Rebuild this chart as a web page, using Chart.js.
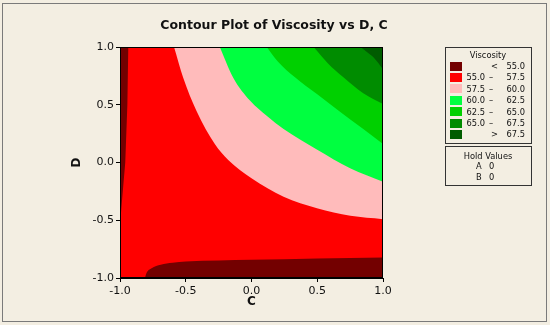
<!DOCTYPE html>
<html>
<head>
<meta charset="utf-8">
<script src="https://cdn.jsdelivr.net/npm/chart.js@4.4.1/dist/chart.umd.min.js"></script>
<style>
  body { margin: 0; }
  #wrap { position: relative; width: 550px; height: 325px; background: #f3eee2; font-family: 'DejaVu Sans', Verdana, sans-serif; color: #111; overflow: hidden; }
  #frame { position: absolute; left: 2px; top: 3px; width: 543px; height: 317px; border: 1px solid #7a7a7a; }
  canvas { position: absolute; left: 0; top: 0; }
  #title { position: absolute; left: 0; width: 548px; top: 17px; text-align: center; font-weight: bold; font-size: 12.5px; line-height: 16px; }
  .box { position: absolute; left: 445px; width: 85px; border: 1px solid #333; }
  .t { position: absolute; font-size: 8.3px; line-height: 10px; white-space: nowrap; }
  .sw { position: absolute; left: 450px; width: 12px; height: 9px; }
</style>
</head>
<body>
<div id="wrap">
  <div id="frame"></div>
  <canvas id="contourChart" width="550" height="325"></canvas>
  <div id="title">Contour Plot of Viscosity vs D, C</div>
  <div class="box" style="top:47px;height:95px"></div>
  <div class="box" style="top:146px;height:38px"></div>
  <div id="legend"></div>
</div>
<script>
// axis
const tickValues = [-1.0, -0.5, 0.0, 0.5, 1.0];
const axisMin = -1.0, axisMax = 1.0;

// contour levels and colours (lowest band first)
const levels = [55.0, 57.5, 60.0, 62.5, 65.0, 67.5];
const levelColors = ['#730000', '#ff0000', '#ffbbbb', '#00ff40', '#00d000', '#008c00', '#005c00'];

// hold values
const holdFactors = ['A', 'B'];
const holdValues = [0, 0];

// contour lines (C, D)
// 55.0 along the left edge
const leftC = [-0.937, -0.944, -0.96, -0.975, -0.99, -1.0];
const leftD = [1.0, 0.5, 0.0, -0.2, -0.4, -0.55];
// 55.0 along the bottom edge
const bottomC = [-0.81, -0.80, -0.76, -0.69, -0.6, -0.5, -0.25, 0.0, 0.5, 1.0];
const bottomD = [-1.0, -0.96, -0.915, -0.885, -0.868, -0.857, -0.848, -0.843, -0.832, -0.822];
// 57.5
const c575 = [-0.589, -0.52, -0.419, -0.279, -0.177, 0.0, 0.244, 0.498, 0.752, 1.0];
const d575 = [1.0, 0.736, 0.448, 0.16, 0.022, -0.137, -0.296, -0.396, -0.462, -0.491];
// 60.0
const c600 = [-0.241, -0.14, -0.01, 0.12, 0.244, 0.5, 0.75, 1.0];
const d600 = [1.0, 0.736, 0.534, 0.40, 0.29, 0.11, -0.05, -0.166];
// 62.5
const c625 = [0.117, 0.2, 0.333, 0.5, 0.663, 0.85, 1.0];
const d625 = [1.0, 0.875, 0.736, 0.59, 0.448, 0.29, 0.16];
// 65.0
const c650 = [0.472, 0.58, 0.701, 0.85, 1.0];
const d650 = [1.0, 0.86, 0.736, 0.6, 0.506];
// 67.5
const c675 = [0.828, 0.88, 0.929, 1.0];
const d675 = [1.0, 0.955, 0.909, 0.808];

function pts(cs, ds) {
  return cs.map((c, i) => ({ x: c, y: ds[i] }));
}

// bands, bottom layer first; level lines fill up to the top of the plot
const layers = [
  { data: pts([axisMin, axisMax, axisMax, axisMin], [axisMin, axisMin, axisMax, axisMax]), color: levelColors[1], fill: 'shape' },
  { data: pts(c575, d575), color: levelColors[2], fill: 'end' },
  { data: pts(c600, d600), color: levelColors[3], fill: 'end' },
  { data: pts(c625, d625), color: levelColors[4], fill: 'end' },
  { data: pts(c650, d650), color: levelColors[5], fill: 'end' },
  { data: pts(c675, d675), color: levelColors[6], fill: 'end' },
  { data: pts(bottomC, bottomD), color: levelColors[0], fill: 'start' },
  { data: pts(leftC, leftD).concat({ x: axisMin, y: axisMax }), color: levelColors[0], fill: 'shape' }
];

const frame = {
  id: 'frame',
  afterDatasetsDraw(chart) {
    const a = chart.chartArea, ctx = chart.ctx;
    ctx.save();
    ctx.strokeStyle = '#000';
    ctx.lineWidth = 1;
    ctx.strokeRect(Math.round(a.left) + 0.5, Math.round(a.top) + 0.5, Math.round(a.right - a.left) - 1, Math.round(a.bottom - a.top) - 1);
    ctx.restore();
  }
};

const tickFont = { family: 'DejaVu Sans', size: 11 };
const titleFont = { family: 'DejaVu Sans', size: 12, weight: 'bold' };

new Chart(document.getElementById('contourChart').getContext('2d'), {
  type: 'line',
  data: {
    datasets: layers.slice().reverse().map(l => ({
      data: l.data,
      fill: l.fill,
      backgroundColor: l.color,
      borderColor: 'transparent',
      borderWidth: 0,
      pointRadius: 0,
      pointHoverRadius: 0,
      cubicInterpolationMode: l.fill === 'shape' ? 'default' : 'monotone',
      tension: 0
    }))
  },
  options: {
    responsive: false,
    animation: false,
    events: [],
    layout: { padding: { left: 66, right: 167, top: 47, bottom: 12 } },
    plugins: { legend: { display: false }, tooltip: { enabled: false } },
    scales: {
      x: {
        type: 'linear', min: axisMin, max: axisMax,
        afterBuildTicks: s => { s.ticks = tickValues.map(v => ({ value: v })); },
        afterFit: s => { s.height = 35; },
        ticks: { callback: v => v.toFixed(1), font: tickFont, color: '#111', padding: 3, maxRotation: 0, autoSkip: false },
        grid: { drawOnChartArea: false, tickLength: 4, color: '#000' },
        border: { color: '#000' },
        title: { display: true, text: 'C', font: titleFont, color: '#111', padding: { top: 0, bottom: 4 } }
      },
      y: {
        type: 'linear', min: axisMin, max: axisMax,
        afterBuildTicks: s => { s.ticks = tickValues.map(v => ({ value: v })); },
        afterFit: s => { s.width = 54; },
        ticks: { callback: v => v.toFixed(1), font: tickFont, color: '#111', padding: 2, autoSkip: false },
        grid: { drawOnChartArea: false, tickLength: 4, color: '#000' },
        border: { color: '#000' },
        title: { display: true, text: 'D', font: titleFont, color: '#111', padding: { top: 4, bottom: 0 } }
      }
    }
  },
  plugins: [frame]
});

// legend boxes
const legend = document.getElementById('legend');
function addText(txt, css) {
  const el = document.createElement('div');
  el.className = 't';
  el.textContent = txt;
  el.style.cssText += css;
  legend.appendChild(el);
}
addText('Viscosity', 'left:445px;width:86px;text-align:center;top:50px;');
levelColors.forEach((col, i) => {
  const cy = 66 + 11.4 * i;
  const sw = document.createElement('div');
  sw.className = 'sw';
  sw.style.top = (cy - 4.5) + 'px';
  sw.style.background = col;
  legend.appendChild(sw);
  const top = 'top:' + (cy - 5) + 'px;';
  if (i === 0) {
    addText('<', top + 'left:491px;');
    addText(levels[0].toFixed(1), top + 'right:25px;');
  } else if (i === levels.length) {
    addText('>', top + 'left:491px;');
    addText(levels[i - 1].toFixed(1), top + 'right:25px;');
  } else {
    addText(levels[i - 1].toFixed(1), top + 'right:65px;');
    addText('\u2013', top + 'left:489px;');
    addText(levels[i].toFixed(1), top + 'right:25px;');
  }
});
addText('Hold Values', 'left:445px;width:86px;text-align:center;top:151px;');
holdFactors.forEach((f, i) => {
  const top = 'top:' + (161 + 10.5 * i) + 'px;';
  addText(f, top + 'left:476px;');
  addText(String(holdValues[i]), top + 'left:489px;');
});
</script>
</body>
</html>
